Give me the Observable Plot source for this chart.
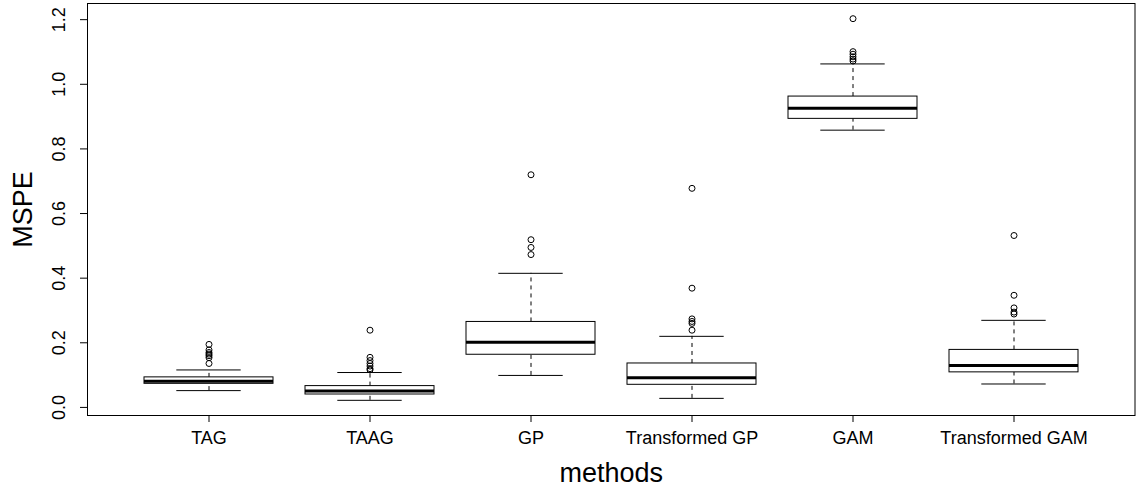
<!DOCTYPE html>
<html>
<head>
<meta charset="utf-8">
<script src="https://cdn.jsdelivr.net/npm/d3@7"></script>
<script src="https://cdn.jsdelivr.net/npm/@observablehq/plot@0.6"></script>
<style>
  html, body { margin: 0; padding: 0; background: #fff; }
  #chart svg { display: block; }
</style>
</head>
<body>
<div id="chart"></div>
<script>
const methods = ["TAG", "TAAG", "GP", "Transformed GP", "GAM", "Transformed GAM"];
const lowerWhisker = [0.052, 0.022, 0.099, 0.028, 0.858, 0.0725];
const q1 = [0.073, 0.040, 0.163, 0.070, 0.893, 0.1085];
const median = [0.081, 0.051, 0.2015, 0.092, 0.926, 0.130];
const q3 = [0.093, 0.066, 0.2645, 0.136, 0.962, 0.178];
const upperWhisker = [0.116, 0.108, 0.415, 0.220, 1.063, 0.2695];
const outliersTAG = [0.195, 0.178, 0.170, 0.165, 0.160, 0.154, 0.136];
const outliersTAAG = [0.239, 0.155, 0.145, 0.136, 0.128, 0.120, 0.116];
const outliersGP = [0.720, 0.519, 0.495, 0.473];
const outliersTGP = [0.678, 0.369, 0.274, 0.266, 0.260, 0.239];
const outliersGAM = [1.203, 1.101, 1.093, 1.085, 1.078, 1.072];
const outliersTGAM = [0.532, 0.347, 0.308, 0.295, 0.289];
const yTicks = [0, 0.2, 0.4, 0.6, 0.8, 1.0, 1.2];

const stats = methods.map((m, i) => ({
  method: m, lo: lowerWhisker[i], q1: q1[i], med: median[i], q3: q3[i], hi: upperWhisker[i]
}));
const outlierLists = [outliersTAG, outliersTAAG, outliersGP, outliersTGP, outliersGAM, outliersTGAM];
const outliers = outlierLists.flatMap((arr, i) => arr.map(v => ({method: methods[i], value: v})));

const font = "'Liberation Sans', Arial, Helvetica, sans-serif";

const chart = Plot.plot({
  width: 1141,
  height: 488,
  marginLeft: 87,
  marginRight: 6.5,
  marginTop: 3,
  marginBottom: 73,
  style: {fontFamily: font, background: "#fff", color: "#000"},
  x: {type: "band", domain: methods, paddingInner: 0.2, paddingOuter: 0.34, label: null},
  y: {domain: [-0.025, 1.25], label: null},
  marks: [
    Plot.ruleX(stats, {x: "method", y1: "q3", y2: "hi", stroke: "#000", strokeDasharray: "4,4", strokeWidth: 1}),
    Plot.ruleX(stats, {x: "method", y1: "lo", y2: "q1", stroke: "#000", strokeDasharray: "4,4", strokeWidth: 1}),
    Plot.tickY(stats, {x: "method", y: "hi", stroke: "#000", strokeWidth: 1, insetLeft: 32.3, insetRight: 32.3}),
    Plot.tickY(stats, {x: "method", y: "lo", stroke: "#000", strokeWidth: 1, insetLeft: 32.3, insetRight: 32.3}),
    Plot.barY(stats, {x: "method", y1: "q1", y2: "q3", fill: "#fff", stroke: "#000", strokeWidth: 1}),
    Plot.tickY(stats, {x: "method", y: "med", stroke: "#000", strokeWidth: 3}),
    Plot.dot(outliers, {x: "method", y: "value", r: 3, stroke: "#000", fill: "none", strokeWidth: 1}),
    Plot.frame({stroke: "#000", strokeWidth: 1}),
    Plot.axisX({tickSize: 7, tickPadding: 9, fontSize: 18, label: null}),
    Plot.axisY(yTicks, {tickSize: 7, tickFormat: () => "", label: null}),
    Plot.text(yTicks, {y: d => d, text: d => d.toFixed(1), frameAnchor: "left", dx: -28.5, rotate: -90, fontSize: 18, textAnchor: "middle", lineAnchor: "middle"}),
    Plot.text(["MSPE"], {text: d => d, frameAnchor: "left", dx: -64.5, rotate: -90, fontSize: 27, textAnchor: "middle", lineAnchor: "middle"}),
    Plot.text(["methods"], {text: d => d, frameAnchor: "bottom", dy: 66, fontSize: 27, textAnchor: "middle", lineAnchor: "bottom"})
  ]
});
document.getElementById("chart").appendChild(chart);
</script>
</body>
</html>
